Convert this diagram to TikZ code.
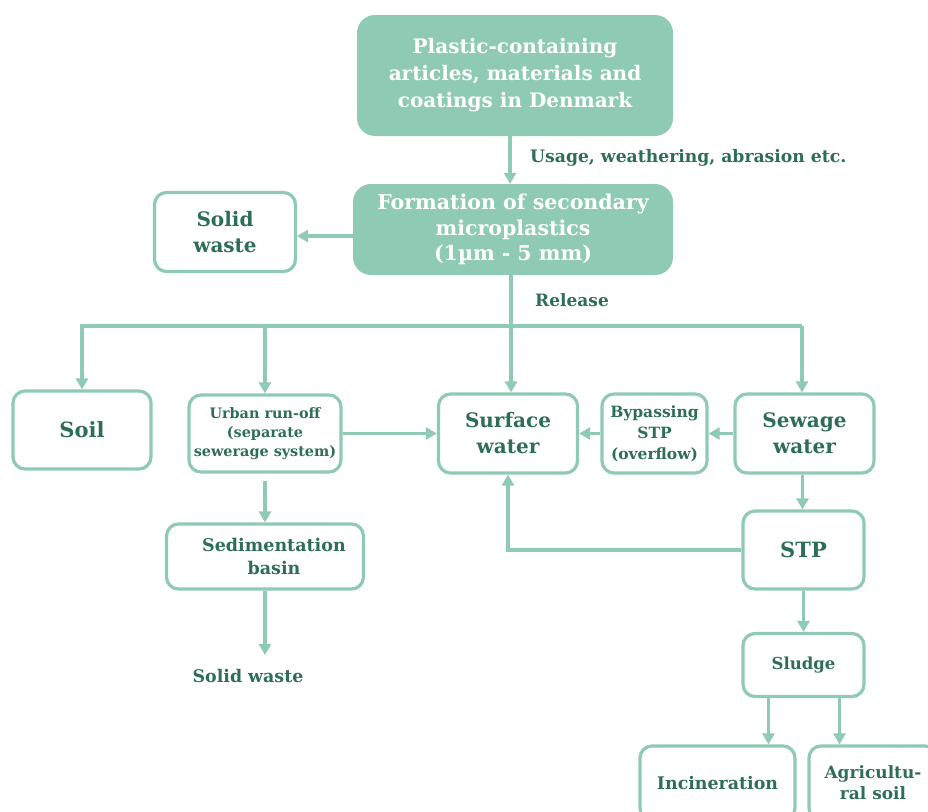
\documentclass[tikz,border=0pt]{standalone}
\usepackage{fontspec}
\setmainfont{DejaVu Serif}
\usetikzlibrary{arrows.meta}
\definecolor{mint}{HTML}{8ECAB4}
\definecolor{dgreen}{HTML}{2E6E58}
\newcommand{\fs}[2]{\fontsize{#1}{#2}\selectfont\bfseries}
\begin{document}
\begin{tikzpicture}[x=1pt,y=-1pt,
  outbox/.style={draw=mint, line width=3.2pt, rounded corners=12pt, fill=white, text=dgreen, align=center, inner sep=0pt},
  filledbox/.style={fill=mint, draw=none, rounded corners=18pt, text=white, align=center, inner sep=0pt},
  arr/.style={draw=mint, line width=3.2pt, -{Triangle[width=12pt,length=11pt]}},
  plain/.style={draw=mint, line width=3.2pt},
  lbl/.style={text=dgreen, align=center, inner sep=0pt}]
\clip (0,0) rectangle (928,811);
\fill[white] (0,0) rectangle (928,811);

\node[filledbox, minimum width=316pt, minimum height=121pt, font=\fs{20}{27}] (top) at (515,75.5)
  {Plastic-containing\\articles, materials and\\coatings in Denmark};
\node[filledbox, minimum width=320pt, minimum height=91pt, font=\fs{20.5}{25.5}] (form) at (513,229.5)
  {Formation of secondary\\microplastics\\(1µm - 5 mm)};
\node[outbox, minimum width=141pt, minimum height=79pt, font=\fs{20}{26}] (sw1) at (225,232) {Solid\\waste};

\node[outbox, minimum width=138pt, minimum height=78pt, font=\fs{21}{26}] (soil) at (82,430) {Soil};
\node[outbox, minimum width=152pt, minimum height=77pt, font=\fs{14.4}{19}] (urban) at (265,433.5)
  {Urban run-off\\(separate\\sewerage system)};
\node[outbox, minimum width=139pt, minimum height=79pt, font=\fs{20}{26}] (surf) at (508,433.5) {Surface\\water};
\node[outbox, minimum width=105pt, minimum height=79pt, font=\fs{15.5}{21}] (byp) at (654.5,433.5)
  {Bypassing\\STP\\(overflow)};
\node[outbox, minimum width=139pt, minimum height=79pt, font=\fs{20}{26}] (sew) at (804.5,433.5) {Sewage\\water};
\node[outbox, minimum width=121pt, minimum height=78pt, font=\fs{21}{26}] (stp) at (803.5,550) {STP};
\node[outbox, minimum width=121pt, minimum height=63pt, font=\fs{16.5}{22}] (sludge) at (803.5,665) {Sludge};
\node[outbox, minimum width=197pt, minimum height=65pt, font=\fs{17.5}{23}] (sed) at (265,556.5)
  {\hspace*{18pt}Sedimentation\\\hspace*{18pt}basin};
\node[outbox, minimum width=155pt, minimum height=74pt, font=\fs{17.4}{22}] (inc) at (717.5,783) {Incineration};
\node[outbox, minimum width=128pt, minimum height=74pt, font=\fs{17}{21}] (agr) at (873,783) {Agricultu-\\ral soil};

\node[lbl, anchor=west, font=\fs{17.2}{20}] (usage) at (530,158) {Usage, weathering, abrasion etc.};
\node[lbl, anchor=west, font=\fs{17}{20}] (release) at (535,300) {Release};
\node[lbl, font=\fs{17.4}{20}] (sw2) at (248,676) {Solid waste};

\draw[arr] ([xshift=-5pt]top.south) -- ([xshift=-5pt]top.south |- form.north);
\draw[arr] ([yshift=-6.5pt]form.west) -- ([yshift=-6.5pt]form.west -| sw1.east);
\coordinate (busL) at (80,326);
\coordinate (busR) at (802,326);
\draw[plain] (busL) -- (busR);
\draw[arr] ([xshift=-2pt]form.south) -- ([xshift=-2pt]form.south |- surf.north);
\draw[arr] (busL -| soil.north) -- (soil.north);
\draw[arr] (busL -| urban.north) -- (urban.north);
\draw[arr] (busR) -- (busR |- sew.north);
\draw[arr] (urban.east) -- (surf.west);
\draw[arr] (sew.west) -- (byp.east);
\draw[arr] (byp.west) -- (surf.east);
\draw[arr] ([xshift=-2pt]sew.south) -- ([xshift=-2pt]sew.south |- stp.north);
\draw[arr] (stp.west) -| (surf.south);
\draw[arr] (stp.south) -- (sludge.north);
\draw[arr] ([xshift=-35pt]sludge.south) -- ([xshift=-35pt]sludge.south |- inc.north);
\draw[arr] ([xshift=36pt]sludge.south) -- ([xshift=36pt]sludge.south |- agr.north);
\draw[arr] ([yshift=-7pt]urban.south) -- (sed.north);
\coordinate (swend) at (265,655);
\draw[arr] (sed.south -| swend) -- (swend);
\end{tikzpicture}
\end{document}
